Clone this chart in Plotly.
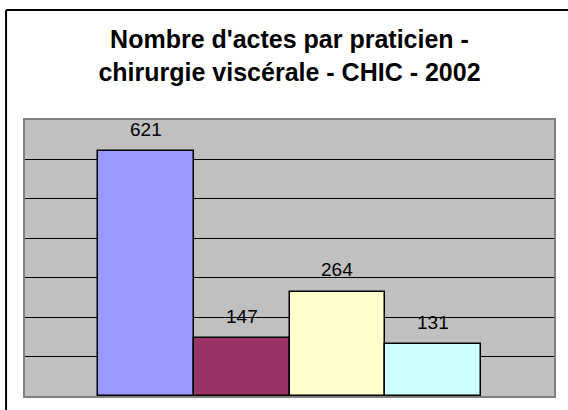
import plotly.graph_objects as go

# Data
praticiens = ["Praticien 1", "Praticien 2", "Praticien 3", "Praticien 4"]
actes = [621, 147, 264, 131]
couleurs = ["#9999FF", "#993366", "#FFFFCC", "#CCFFFF"]

title_text = "<b>Nombre d'actes par praticien -<br>chirurgie viscérale - CHIC - 2002</b>"

FONT = "Liberation Sans, Arial, sans-serif"

fig = go.Figure()
fig.add_trace(go.Bar(
    x=praticiens,
    y=actes,
    marker=dict(color=couleurs, line=dict(color="black", width=1.5)),
    width=1.0,
    hoverinfo="x+y",
))

for p, v in zip(praticiens, actes):
    fig.add_annotation(
        x=p, y=v, text=str(v), showarrow=False,
        yanchor="middle", yshift=22,
        font=dict(family=FONT, size=19, color="black"),
    )

W, H = 568, 410
L, R, T, B = 25, 12, 120, 14
pw, ph = W - L - R, H - T - B

def px_x(x):
    return (x - L) / pw

def px_y(y):
    return (H - B - y) / ph

# outer chart border (left and top edges visible)
fig.add_shape(type="line", xref="paper", yref="paper",
              x0=px_x(6), x1=px_x(6), y0=px_y(10), y1=px_y(430),
              line=dict(color="black", width=2))
fig.add_shape(type="line", xref="paper", yref="paper",
              x0=px_x(6), x1=px_x(600), y0=px_y(10), y1=px_y(10),
              line=dict(color="black", width=2))

fig.update_layout(
    width=W, height=H,
    margin=dict(l=L, r=R, t=T, b=B, pad=0),
    paper_bgcolor="white",
    plot_bgcolor="#C0C0C0",
    showlegend=False,
    bargap=0,
    font=dict(family=FONT, color="black"),
    title=dict(text=title_text, x=0.5, xref="paper", xanchor="center",
               y=1 - 48 / H, yanchor="top",
               font=dict(family=FONT, size=25, color="black")),
    xaxis=dict(type="category", range=[-1.266, 4.266], showticklabels=False,
               showgrid=False, zeroline=False, ticks="",
               showline=True, linecolor="#808080", linewidth=2, mirror=True),
    yaxis=dict(range=[0, 700], dtick=100, showticklabels=False,
               showgrid=True, gridcolor="black", gridwidth=1, zeroline=False,
               ticks="", showline=True, linecolor="#808080", linewidth=2, mirror=True),
)

fig.write_html("out.html", config={"displayModeBar": False},
               post_script="document.body.style.margin='0';")
